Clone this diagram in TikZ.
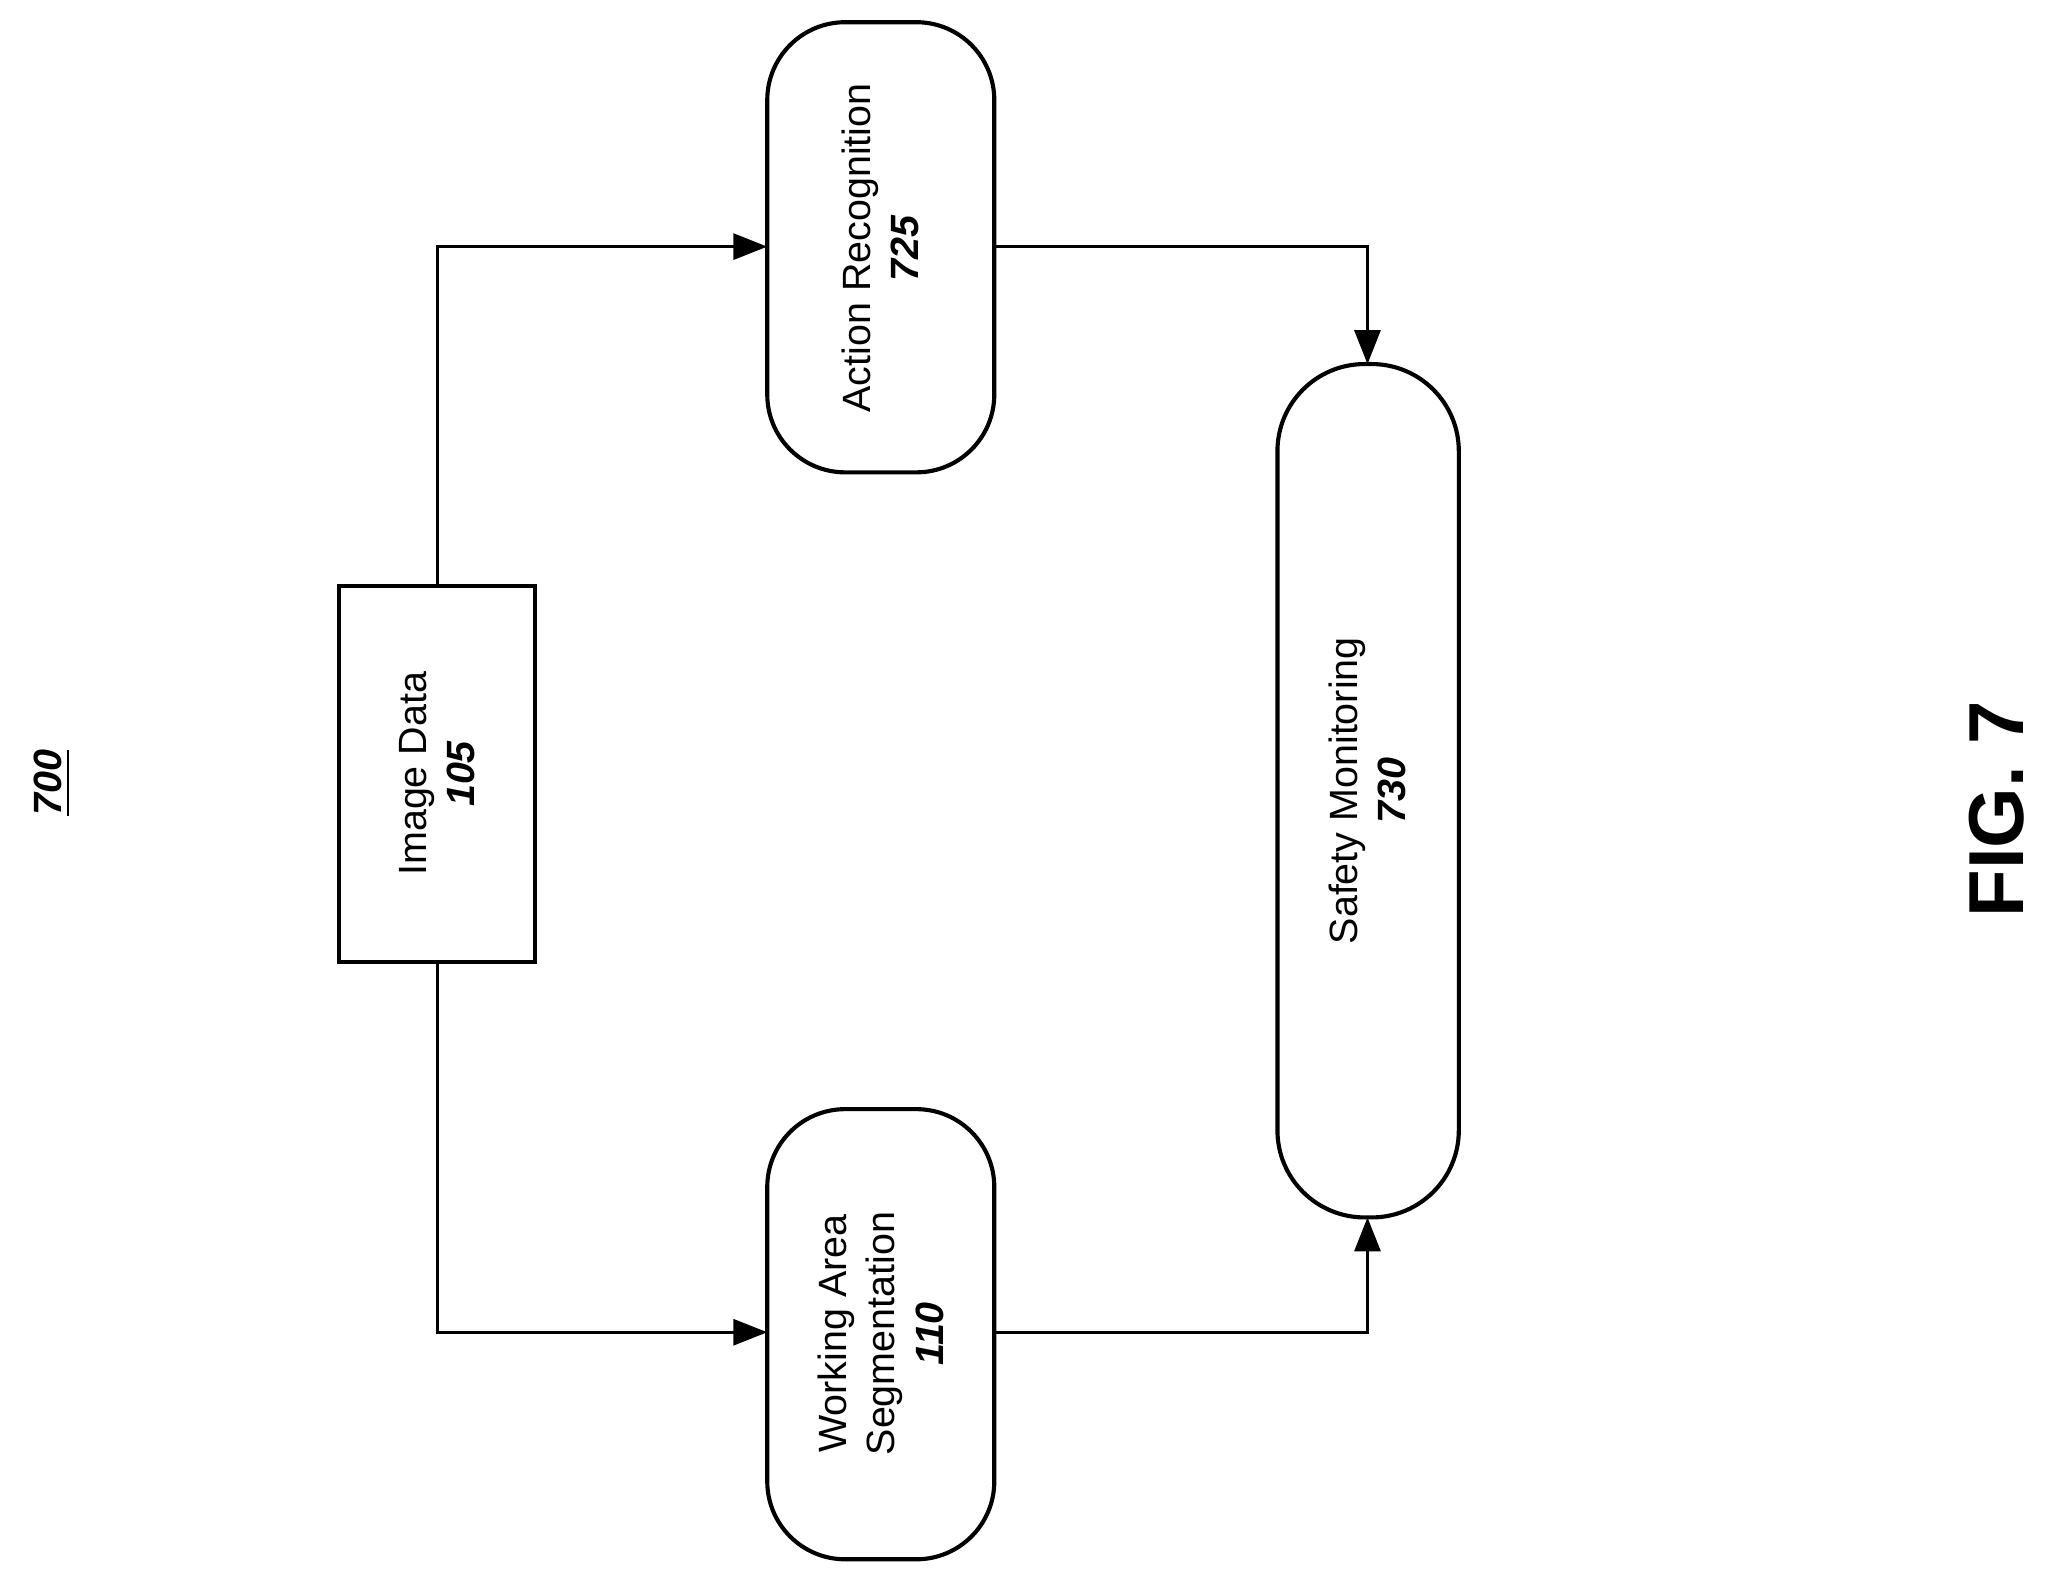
\documentclass[tikz,border=0pt]{standalone}
\usepackage{fontspec}
\setmainfont{Liberation Sans}
\usetikzlibrary{arrows.meta}
\begin{document}
\begin{tikzpicture}[x=0.1mm,y=-0.1mm,
  lab/.style={font=\fontsize{8.6}{10.5}\selectfont, align=center, rotate=90},
  rbox/.style={draw, line width=0.9pt, rounded corners=#1},
  conn/.style={line width=0.6pt, -{Triangle[length=2.6mm,width=2mm]}},
  plain/.style={line width=0.6pt}]
\useasboundingbox (0,0) rectangle (1568,1211);
\node[lab] (n700) at (40,600) {\textbf{\textit{\underline{700}}}};
\draw[line width=0.9pt] (260,449) rectangle (410,737);
\node[lab] (img) at (335,593) {Image Data\\\textbf{\textit{105}}};
\coordinate (imgT) at (335,449); \coordinate (imgB) at (335,737);
\draw[rbox=17pt] (588,17) rectangle (762,362);
\node[lab] (act) at (675,190) {Action Recognition\\\textbf{\textit{725}}};
\coordinate (actL) at (588,189); \coordinate (actR) at (762,189);
\draw[rbox=17pt] (588,850) rectangle (762,1195);
\node[lab] (was) at (675,1022) {Working Area\\Segmentation\\\textbf{\textit{110}}};
\coordinate (wasL) at (588,1021); \coordinate (wasR) at (762,1021);
\draw[rbox=19pt] (979,279) rectangle (1118,933);
\node[lab] (saf) at (1048,606) {Safety Monitoring\\\textbf{\textit{730}}};
\coordinate (safT) at (1048,279); \coordinate (safB) at (1048,933);
\draw[conn] (imgT) |- (actL);
\draw[conn] (imgB) |- (wasL);
\draw[conn] (actR) -| (safT);
\draw[conn] (wasR) -| (safB);
\node[rotate=90, font=\fontsize{17}{20}\selectfont\bfseries] (fig) at (1530,620) {FIG. 7};
\end{tikzpicture}
\end{document}
